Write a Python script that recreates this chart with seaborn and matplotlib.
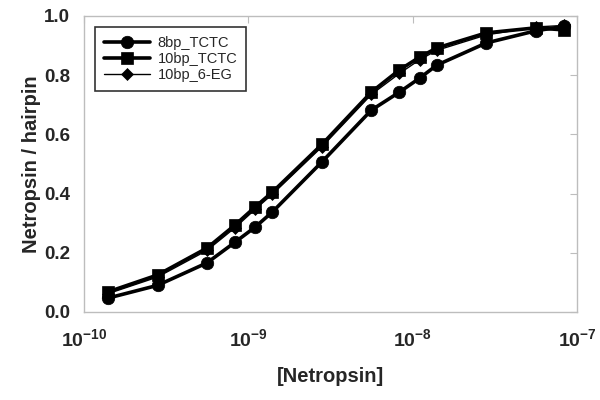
import numpy as np
import pandas as pd
import matplotlib
matplotlib.use("Agg")
import matplotlib.pyplot as plt
import seaborn as sns

sns.set_style("white")
plt.rcParams["font.family"] = ["Liberation Sans", "DejaVu Sans"]
plt.rcParams["mathtext.fontset"] = "custom"
plt.rcParams["mathtext.bf"] = "Liberation Sans:bold"
plt.rcParams["mathtext.rm"] = "Liberation Sans:bold"

# netropsin concentration (nM)
conc_nM = [0.14, 0.28, 0.56, 0.83, 1.1, 1.4, 2.8, 5.6, 8.3, 11, 14, 28, 56, 83]

bp8_tctc = [0.047, 0.09, 0.166, 0.236, 0.287, 0.338, 0.507, 0.682, 0.743, 0.79, 0.834, 0.909, 0.95, 0.965]
bp10_tctc = [0.068, 0.125, 0.216, 0.294, 0.355, 0.405, 0.566, 0.743, 0.818, 0.861, 0.892, 0.943, 0.96, 0.953]
bp10_6eg = [0.062, 0.118, 0.208, 0.285, 0.347, 0.398, 0.558, 0.735, 0.806, 0.852, 0.884, 0.936, 0.963, 0.968]

series_names = ["8bp_TCTC", "10bp_TCTC", "10bp_6-EG"]
series_vals = [bp8_tctc, bp10_tctc, bp10_6eg]
markers = ["o", "s", "D"]
msizes = [9, 9, 6]
lwidths = [2.6, 2.6, 1.0]

x_ticks = [1e-10, 1e-9, 1e-8, 1e-7]
x_ticklabels = [r"$\mathbf{10^{-10}}$", r"$\mathbf{10^{-9}}$", r"$\mathbf{10^{-8}}$", r"$\mathbf{10^{-7}}$"]
y_ticks = [0.0, 0.2, 0.4, 0.6, 0.8, 1.0]

conc_M = np.array(conc_nM) * 1e-9

fig, ax = plt.subplots(figsize=(6, 4), dpi=100)
fig.subplots_adjust(left=0.14, right=0.962, top=0.96, bottom=0.22)

for name, vals, mk, ms, lw in zip(series_names, series_vals, markers, msizes, lwidths):
    df = pd.DataFrame({"x": conc_M, "y": vals})
    sns.lineplot(data=df, x="x", y="y", ax=ax, color="black", linewidth=lw,
                 marker=mk, markersize=ms, markeredgecolor="black",
                 markeredgewidth=0.5, label=name)

ax.set_xscale("log")
ax.set_xlim(1e-10, 1e-7)
ax.set_ylim(0, 1.0)
ax.set_xticks(x_ticks)
ax.set_xticklabels(x_ticklabels)
ax.set_yticks(y_ticks)
ax.set_yticklabels([f"{v:.1f}" for v in y_ticks])
ax.minorticks_off()

for sp in ax.spines.values():
    sp.set_color("#bdbdbd")
    sp.set_linewidth(1.0)
ax.tick_params(direction="in", length=5, color="#bdbdbd", top=True, right=True)
ax.tick_params(axis="y", labelsize=13.5, pad=10)
ax.tick_params(axis="x", labelsize=14, pad=12)
for lab in ax.get_xticklabels() + ax.get_yticklabels():
    lab.set_fontweight("bold")

ax.set_xlabel("[Netropsin]", fontsize=14.5, fontweight="bold", labelpad=12)
ax.set_ylabel("Netropsin / hairpin", fontsize=14.5, fontweight="bold", labelpad=2)

leg = ax.legend(loc="upper left", bbox_to_anchor=(0.022, 0.963), frameon=True,
                fancybox=False, fontsize=10.5, handlelength=3.2, borderaxespad=0,
                borderpad=0.6, labelspacing=0.15, handletextpad=0.5)
leg.get_frame().set_edgecolor("black")
leg.get_frame().set_linewidth(1.2)

fig.savefig("out.png", dpi=100)
